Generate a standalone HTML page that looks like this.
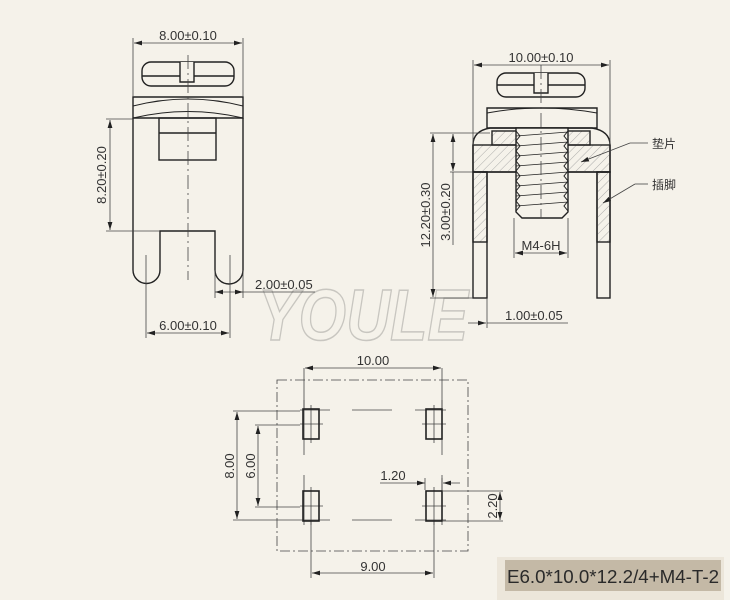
<!DOCTYPE html>
<html><head><meta charset="utf-8"><style>
html,body{margin:0;padding:0;background:#f5f2ea;}
svg{display:block}
text{font-family:"Liberation Sans","Noto Sans CJK SC",sans-serif;fill:#333;}
</style></head><body>
<svg width="730" height="600" viewBox="0 0 730 600" xmlns="http://www.w3.org/2000/svg">
<defs>
<marker id="a" viewBox="0 0 10 6" refX="10" refY="3" markerWidth="10" markerHeight="6" orient="auto-start-reverse"><path d="M0,0L10,3L0,6z" fill="#222"/></marker>
<pattern id="h" width="6" height="6" patternUnits="userSpaceOnUse" patternTransform="rotate(45)"><line x1="0" y1="0" x2="0" y2="6" stroke="#999" stroke-width="0.8"/></pattern>
</defs>
<rect width="730" height="600" fill="#f5f2ea"/>
<!-- watermark -->
<text x="258" y="340" font-size="72" font-style="italic" font-weight="bold" fill="none" stroke="#c8c6c0" stroke-width="1.5" style="fill:none" textLength="210" lengthAdjust="spacingAndGlyphs">YOULE</text>

<g stroke="#222" fill="none" stroke-width="1.4">
<!-- LEFT VIEW -->
<rect x="142" y="62" width="92" height="24" rx="9"/>
<line x1="142" y1="76" x2="234" y2="76"/>
<path d="M180,62 V82 H194 V62" fill="#f5f2ea"/>
<path d="M133,97 H243 V118 H133 Z"/>
<path d="M133,106 Q188,92 243,106" stroke-width="1"/>
<path d="M133,118 Q188,105 243,118" stroke-width="1"/>
<path d="M133,118 V270 A13,13 0 0 0 160,270 V231 H215 V270 A14,14 0 0 0 243,270 V118"/>
<rect x="159" y="118" width="57" height="42"/>
<line x1="159" y1="133" x2="216" y2="133"/>
</g>
<g stroke="#444" stroke-width="0.8" fill="none">
<line x1="188" y1="55" x2="188" y2="280" stroke-dasharray="14,4,2,4"/>
<line x1="133" y1="38" x2="133" y2="97"/><line x1="243" y1="38" x2="243" y2="97"/>
<line x1="134" y1="43" x2="242" y2="43" marker-start="url(#a)" marker-end="url(#a)"/>
<line x1="106" y1="119" x2="133" y2="119"/><line x1="106" y1="231" x2="160" y2="231"/>
<line x1="110" y1="120" x2="110" y2="230" marker-start="url(#a)" marker-end="url(#a)"/>
<line x1="215" y1="270" x2="215" y2="298"/><line x1="243" y1="270" x2="243" y2="298"/>
<line x1="215" y1="292" x2="243" y2="292" marker-start="url(#a)" marker-end="url(#a)"/>
<line x1="243" y1="292" x2="315" y2="292"/>
<line x1="146" y1="255" x2="146" y2="338"/><line x1="230" y1="255" x2="230" y2="338"/>
<line x1="147" y1="333" x2="229" y2="333" marker-start="url(#a)" marker-end="url(#a)"/>
</g>
<text x="188" y="40" font-size="13" text-anchor="middle">8.00±0.10</text>
<text transform="translate(106,175) rotate(-90)" font-size="13" text-anchor="middle">8.20±0.20</text>
<text x="255" y="289" font-size="13">2.00±0.05</text>
<text x="188" y="330" font-size="13" text-anchor="middle">6.00±0.10</text>

<!-- RIGHT VIEW -->
<g stroke="#222" fill="none" stroke-width="1.4">
<rect x="497" y="73" width="88" height="24" rx="9"/>
<line x1="497" y1="85" x2="585" y2="85"/>
<path d="M534,73 V93 H548 V73" fill="#f5f2ea"/>
<path d="M487,108 H597 V128 H487 Z"/>
<path d="M487,113 Q541,103 597,113" stroke-width="1"/>
<path d="M473,145 Q473,131 490,128 H592 Q610,131 610,145 V172 H473 Z"/>
<rect x="473" y="145" width="137" height="27" fill="url(#h)"/>
<rect x="492" y="131" width="98" height="14" fill="url(#h)"/>
<rect x="473" y="172" width="14" height="126"/>
<rect x="473" y="172" width="14" height="70" fill="url(#h)"/>
<rect x="597" y="172" width="13" height="126"/>
<rect x="597" y="172" width="13" height="70" fill="url(#h)"/>
<path d="M516,128 V212 L522,218 H562 L568,212 V128 Z" fill="#f5f2ea"/>
<path d="M516,131 L520,136 L516,141 L520,146 L516,151 L520,156 L516,161 L520,166 L516,171 L520,176 L516,181 L520,186 L516,191 L520,196 L516,201 L520,206 L516,211" stroke-width="1"/>
<path d="M568,131 L564,136 L568,141 L564,146 L568,151 L564,156 L568,161 L564,166 L568,171 L564,176 L568,181 L564,186 L568,191 L564,196 L568,201 L564,206 L568,211" stroke-width="1"/>
<g stroke-width="0.8">
<line x1="516" y1="136" x2="568" y2="132"/><line x1="516" y1="146" x2="568" y2="142"/><line x1="516" y1="156" x2="568" y2="152"/><line x1="516" y1="166" x2="568" y2="162"/><line x1="516" y1="176" x2="568" y2="172"/><line x1="516" y1="186" x2="568" y2="182"/><line x1="516" y1="196" x2="568" y2="192"/><line x1="516" y1="206" x2="568" y2="202"/>
</g>
</g>
<g stroke="#444" stroke-width="0.8" fill="none">
<line x1="541" y1="65" x2="541" y2="218" stroke-dasharray="14,4,2,4"/>
<line x1="473" y1="60" x2="473" y2="145"/><line x1="610" y1="60" x2="610" y2="145"/>
<line x1="474" y1="65" x2="609" y2="65" marker-start="url(#a)" marker-end="url(#a)"/>
<line x1="430" y1="133" x2="490" y2="133"/>
<line x1="450" y1="172" x2="473" y2="172"/>
<line x1="430" y1="298" x2="473" y2="298"/>
<line x1="433" y1="134" x2="433" y2="297" marker-start="url(#a)" marker-end="url(#a)"/>
<line x1="453" y1="134" x2="453" y2="171" marker-start="url(#a)" marker-end="url(#a)"/>
<line x1="453" y1="172" x2="453" y2="245"/>
<line x1="514" y1="218" x2="514" y2="258"/><line x1="568" y1="218" x2="568" y2="258"/>
<line x1="515" y1="253" x2="567" y2="253" marker-start="url(#a)" marker-end="url(#a)"/>
<line x1="487" y1="298" x2="487" y2="328"/>
<line x1="468" y1="323" x2="486" y2="323" marker-end="url(#a)"/>
<line x1="487" y1="323" x2="568" y2="323"/>
<line x1="648" y1="143" x2="630" y2="143"/><line x1="630" y1="143" x2="581" y2="162" marker-end="url(#a)"/>
<line x1="648" y1="184" x2="635" y2="184"/><line x1="635" y1="184" x2="603" y2="203" marker-end="url(#a)"/>
</g>
<text x="541" y="62" font-size="13" text-anchor="middle">10.00±0.10</text>
<text transform="translate(430,215) rotate(-90)" font-size="13" text-anchor="middle">12.20±0.30</text>
<text transform="translate(450,212) rotate(-90)" font-size="13" text-anchor="middle">3.00±0.20</text>
<text x="541" y="250" font-size="13" text-anchor="middle">M4-6H</text>
<text x="505" y="320" font-size="13">1.00±0.05</text>
<text x="652" y="148" font-size="12">垫片</text>
<text x="652" y="189" font-size="12">插脚</text>

<!-- BOTTOM VIEW -->
<g stroke="#444" stroke-width="0.8" fill="none">
<rect x="277" y="380" width="191" height="171" stroke-dasharray="10,3,2,3"/>
<line x1="304" y1="368" x2="304" y2="408"/><line x1="442" y1="368" x2="442" y2="408"/>
<line x1="305" y1="368" x2="441" y2="368" marker-start="url(#a)" marker-end="url(#a)"/>
<line x1="233" y1="411" x2="300" y2="411"/><line x1="233" y1="520" x2="300" y2="520"/>
<line x1="237" y1="412" x2="237" y2="519" marker-start="url(#a)" marker-end="url(#a)"/>
<line x1="255" y1="425" x2="300" y2="425"/><line x1="255" y1="507" x2="300" y2="507"/>
<line x1="258" y1="426" x2="258" y2="506" marker-start="url(#a)" marker-end="url(#a)"/>
<line x1="311" y1="521" x2="311" y2="578"/><line x1="434" y1="521" x2="434" y2="578"/>
<line x1="312" y1="573" x2="433" y2="573" marker-start="url(#a)" marker-end="url(#a)"/>
<line x1="380" y1="483" x2="425" y2="483" marker-end="url(#a)"/>
<line x1="443" y1="483" x2="460" y2="483" marker-start="url(#a)"/>
<line x1="425" y1="478" x2="425" y2="490"/><line x1="442" y1="478" x2="442" y2="490"/>
<line x1="443" y1="491" x2="503" y2="491"/><line x1="443" y1="521" x2="503" y2="521"/>
<line x1="500" y1="492" x2="500" y2="520" marker-start="url(#a)" marker-end="url(#a)"/>
<line x1="300" y1="410" x2="330" y2="410"/><line x1="352" y1="410" x2="392" y2="410"/><line x1="415" y1="410" x2="446" y2="410"/>
<line x1="300" y1="520" x2="330" y2="520"/><line x1="352" y1="520" x2="392" y2="520"/><line x1="415" y1="520" x2="446" y2="520"/>
<line x1="304" y1="400" x2="304" y2="455"/><line x1="304" y1="475" x2="304" y2="525"/>
<line x1="442" y1="400" x2="442" y2="455"/><line x1="442" y1="475" x2="442" y2="525"/>
<line x1="300" y1="424" x2="323" y2="424"/><line x1="422" y1="424" x2="446" y2="424"/>
<line x1="300" y1="506" x2="323" y2="506"/><line x1="422" y1="506" x2="446" y2="506"/>
<line x1="311" y1="405" x2="311" y2="443"/><line x1="434" y1="405" x2="434" y2="443"/>
<line x1="311" y1="487" x2="311" y2="525"/><line x1="434" y1="487" x2="434" y2="525"/>
</g>
<g stroke="#222" stroke-width="1.6" fill="none">
<rect x="303" y="409" width="16" height="30"/><rect x="426" y="409" width="16" height="30"/>
<rect x="303" y="491" width="16" height="30"/><rect x="426" y="491" width="16" height="30"/>
</g>
<text x="373" y="365" font-size="13" text-anchor="middle">10.00</text>
<text transform="translate(234,466) rotate(-90)" font-size="13" text-anchor="middle">8.00</text>
<text transform="translate(255,466) rotate(-90)" font-size="13" text-anchor="middle">6.00</text>
<text x="373" y="571" font-size="13" text-anchor="middle">9.00</text>
<text x="393" y="480" font-size="13" text-anchor="middle">1.20</text>
<text transform="translate(497,506) rotate(-90)" font-size="13" text-anchor="middle">2.20</text>

<!-- label -->
<rect x="497" y="557" width="227" height="43" fill="#ece6da"/>
<rect x="505" y="560" width="216" height="31" fill="#c4b9a6"/>
<text x="507" y="583" font-size="18" textLength="212" lengthAdjust="spacingAndGlyphs" style="fill:#2a2a2a">E6.0*10.0*12.2/4+M4-T-2</text>
</svg>
</body></html>
